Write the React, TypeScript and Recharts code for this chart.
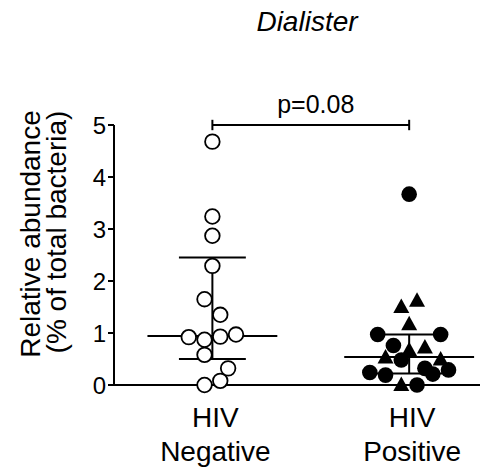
import React from "react"
import { ScatterChart, Scatter, XAxis, YAxis, ReferenceLine } from "recharts"

const groups = ["HIV\nNegative", "HIV\nPositive"]
const yTicks = [0, 1, 2, 3, 4, 5]

// HIV negative, open circles (value, horizontal jitter in group units)
const negValues = [4.68, 3.24, 2.87, 2.29, 1.65, 1.35, 0.92, 0.87, 0.93, 0.97, 0.58, 0.32, 0.0, 0.08]
const negJitter = [0, 0, 0, 0, -0.04, 0.04, -0.12, -0.04, 0.04, 0.12, -0.04, 0.08, -0.04, 0.04]

// HIV positive, filled circles
const posCircleValues = [3.67, 0.97, 0.97, 0.76, 0.48, 0.24, 0.19, 0.32, 0.21, 0.29, 0.0]
const posCircleJitter = [0, -0.16, 0.16, -0.08, -0.04, -0.2, -0.12, 0.08, 0.12, 0.2, 0.04]

// HIV positive, filled triangles
const posTriValues = [1.5, 1.62, 1.17, 0.67, 0.72, 0.53, 0.49, 0.0]
const posTriJitter = [-0.04, 0.04, 0, 0, 0.08, -0.12, 0.16, -0.04]

const medians = [0.94, 0.54]
const lowerQ = [0.5, 0.22]
const upperQ = [2.45, 0.97]
const pText = "p=0.08"
const bracketY = 5

const MED_HALF = 0.33
const Q_HALF = 0.17
const FONT = "'Liberation Sans', Arial, sans-serif"

const toPoints = (vals: number[], jit: number[], group: number) =>
  vals.map((v, i) => ({ x: group + jit[i], y: v }))

const negData = toPoints(negValues, negJitter, 1)
const posCircles = toPoints(posCircleValues, posCircleJitter, 2)
const posTris = toPoints(posTriValues, posTriJitter, 2)

const OpenCircle = (p: any) => (
  <circle cx={p.cx} cy={p.cy} r={7.3} fill="#fff" stroke="#000" strokeWidth={1.8} />
)
const FilledCircle = (p: any) => <circle cx={p.cx} cy={p.cy} r={7.8} fill="#000" />
const Triangle = (p: any) => (
  <path
    d={`M${p.cx},${p.cy - 8.5} L${p.cx - 8},${p.cy + 6} L${p.cx + 8},${p.cy + 6} Z`}
    fill="#000"
  />
)

const GroupTick = (props: any) => {
  const { x, y, payload } = props
  const lines = groups[Math.round(payload.value) - 1].split("\n")
  return (
    <text textAnchor="middle" fontSize={28} fontFamily={FONT} fill="#000">
      <tspan x={x + 3} y={y + 42}>{lines[0]}</tspan>
      <tspan x={x + 3} y={y + 76}>{lines[1]}</tspan>
    </text>
  )
}

const YLabel = () => (
  <g fontSize={28} fontFamily={FONT} fill="#000">
    <text x={40} y={234} textAnchor="middle" transform="rotate(-90, 40, 234)">
      Relative abundance
    </text>
    <text x={66} y={232} textAnchor="middle" transform="rotate(-90, 66, 232)">
      (% of total bacteria)
    </text>
  </g>
)

const lineStyle = { stroke: "#000", strokeWidth: 2 }

export default function App() {
  return (
    <div style={{ position: "absolute", left: 0, top: 0, width: 497, height: 472, background: "#fff" }}>
      <div
        style={{
          position: "absolute",
          left: 207,
          top: 8,
          width: 200,
          textAlign: "center",
          fontFamily: FONT,
          fontStyle: "italic",
          fontSize: 28,
          lineHeight: "28px",
          color: "#000",
        }}
      >
        Dialister
      </div>
      <ScatterChart width={497} height={472} margin={{ top: 125, right: 17, bottom: 57, left: 54 }}>
        <XAxis
          type="number"
          dataKey="x"
          domain={[0.5, 2.36]}
          ticks={[1, 2]}
          tick={<GroupTick />}
          tickLine={false}
          tickSize={0}
          tickMargin={0}
          axisLine={lineStyle}
          height={30}
        />
        <YAxis
          type="number"
          dataKey="y"
          domain={[0, 5]}
          ticks={yTicks}
          width={60}
          tickSize={6}
          tickMargin={2}
          axisLine={lineStyle}
          tickLine={lineStyle}
          tick={{ fontSize: 24, fontFamily: FONT, fill: "#000" }}
          label={<YLabel />}
        />
        <Scatter data={negData} shape={OpenCircle} isAnimationActive={false} />
        <Scatter data={posCircles} shape={FilledCircle} isAnimationActive={false} />
        <Scatter data={posTris} shape={Triangle} isAnimationActive={false} />
        {medians.map((m, i) => (
          <ReferenceLine
            key={"m" + i}
            segment={[{ x: i + 1 - MED_HALF, y: m }, { x: i + 1 + MED_HALF, y: m }]}
            {...lineStyle}
          />
        ))}
        {lowerQ.map((q, i) => (
          <ReferenceLine
            key={"l" + i}
            segment={[{ x: i + 1 - Q_HALF, y: q }, { x: i + 1 + Q_HALF, y: q }]}
            {...lineStyle}
          />
        ))}
        {upperQ.map((q, i) => (
          <ReferenceLine
            key={"u" + i}
            segment={[{ x: i + 1 - Q_HALF, y: q }, { x: i + 1 + Q_HALF, y: q }]}
            {...lineStyle}
          />
        ))}
        {upperQ.map((q, i) => (
          <ReferenceLine
            key={"v" + i}
            segment={[{ x: i + 1, y: lowerQ[i] }, { x: i + 1, y: q }]}
            {...lineStyle}
          />
        ))}
        <ReferenceLine
          segment={[{ x: 1, y: bracketY }, { x: 2, y: bracketY }]}
          ifOverflow="visible"
          {...lineStyle}
          label={{ value: pText, position: "top", offset: 12, fontSize: 25, fontFamily: FONT, fill: "#000", dx: 5 }}
        />
        {[1, 2].map((g) => (
          <ReferenceLine
            key={"b" + g}
            segment={[{ x: g, y: bracketY - 0.1 }, { x: g, y: bracketY + 0.1 }]}
            ifOverflow="visible"
            {...lineStyle}
          />
        ))}
      </ScatterChart>
    </div>
  )
}
